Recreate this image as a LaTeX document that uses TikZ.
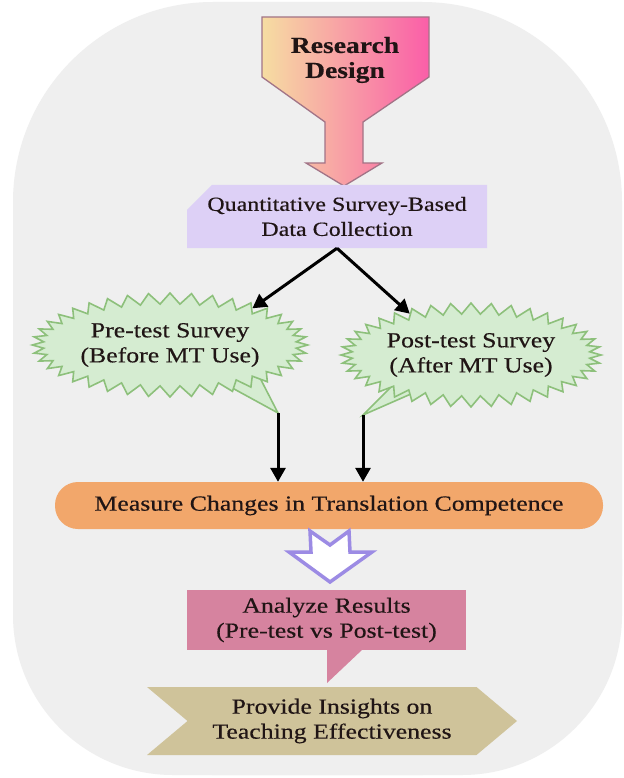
\documentclass[tikz,border=0pt]{standalone}
\usepackage{fontspec}
\setmainfont{Liberation Serif}[FakeStretch=1.2,FakeBold=0.4]
\usetikzlibrary{arrows.meta,positioning,shapes.misc,shapes.symbols,backgrounds}

\definecolor{bggray}{HTML}{EFEFEF}
\definecolor{rdleft}{HTML}{F6DDA2}
\definecolor{rdright}{HTML}{FA5EA8}
\definecolor{rdedge}{HTML}{A27487}
\definecolor{lav}{HTML}{DDD0F6}
\definecolor{leaf}{HTML}{D5ECD1}
\definecolor{leafedge}{HTML}{8DC07B}
\definecolor{peach}{HTML}{F2A76B}
\definecolor{violet}{HTML}{9C8BE4}
\definecolor{rose}{HTML}{D6839F}
\definecolor{sand}{HTML}{CFC39A}
\definecolor{ink}{HTML}{201515}

\begin{document}
\begin{tikzpicture}[x=1pt,y=-1pt,
  txt/.style={align=center,text=ink,font=\fontsize{21.5}{25}\selectfont},
  burst/.style={txt,starburst,random starburst=0,starburst points=40,starburst point height=11pt,fill=leaf,draw=leafedge,line width=1.6pt,minimum width=236pt,minimum height=104pt,inner sep=0pt},
  flow/.style={-{Triangle[length=14pt,width=15pt]},line width=3pt,black}]
  % backdrop
  \begin{scope}[on background layer]
    \fill[white] (0,0) rectangle (623,778);
    \fill[bggray,rounded corners=200pt] (13,2) rectangle (622,775);
    \fill[bggray,rounded corners=160pt] (13,400) rectangle (622,775);
  \end{scope}
  \useasboundingbox (0,0) rectangle (623,778);

  \shadedraw[left color=rdleft,right color=rdright,draw=rdedge,line width=1.3pt]
    (262,17) -- (429,17) -- (429,77) -- (363,122) -- (363,163) -- (382,163) -- (344,186)
    -- (306,163) -- (325,163) -- (325,122) -- (262,77) -- cycle;
  \node[txt,font=\fontsize{23}{25}\selectfont\bfseries] (design) at (345,60) {Research\\Design};

  \node[txt,font=\fontsize{20}{25}\selectfont,chamfered rectangle,chamfered rectangle corners=north west,
    chamfered rectangle xsep=13pt,chamfered rectangle ysep=12pt,fill=lav,
    minimum width=300pt,minimum height=57pt,inner sep=0pt] (quant) at (337,216.5) {Quantitative Survey-Based\\Data Collection};

  \node[burst] (pre) at (170,345) {Pre-test Survey\\(Before MT Use)};
  \node[burst] (post) at (471,355) {Post-test Survey\\(After MT Use)};
  \coordinate (pretip) at (278,413);
  \coordinate (posttip) at (363,415);
  \begin{scope}[on background layer]
    \filldraw[fill=leaf,draw=leafedge,line width=1.6pt] (225,384) -- (pretip) -- (259,376);
    \filldraw[fill=leaf,draw=leafedge,line width=1.6pt] (392,386) -- (posttip) -- (420,390);
  \end{scope}

  \draw[flow] (quant.south) -- (pre.24);
  \draw[flow] (quant.south) -- (post.146);

  \node[txt,fill=peach,rounded corners=23pt,minimum width=548pt,minimum height=47pt] (measure) at (329,505.5) {Measure Changes in Translation Competence};
  \draw[flow] (pretip) -- (pretip |- measure.north);
  \draw[flow] (posttip) -- (posttip |- measure.north);

  % hollow arrow
  \draw[violet,line width=3.5pt,fill=white,line join=miter]
    (310,531) -- (330,545) -- (349,531) -- (350,552) -- (372,552) -- (330,582) -- (289,552) -- (311,552) -- cycle;

  \node[txt,fill=rose,minimum width=279pt,minimum height=60pt] (analyze) at (326.5,620) {Analyze Results\\(Pre-test vs Post-test)};
  \fill[rose] (327,649) -- (363,649) -- (327,683) -- cycle;

  \node[txt,signal,signal from=west,signal to=east,signal pointer angle=80,fill=sand,
    minimum width=370pt,minimum height=68pt,inner sep=0pt] (insight) at (332,721) {Provide Insights on\\Teaching Effectiveness};
\end{tikzpicture}
\end{document}
